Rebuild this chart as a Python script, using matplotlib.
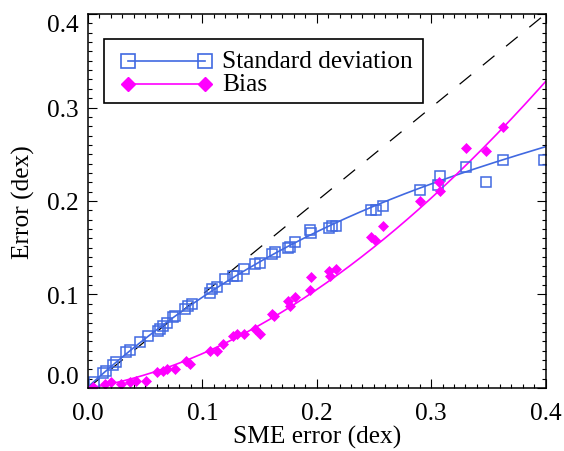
import numpy as np
import matplotlib
matplotlib.use("Agg")
import matplotlib.pyplot as plt
from matplotlib.lines import Line2D
from matplotlib.patches import Rectangle
from matplotlib.ticker import MultipleLocator

plt.rcParams["font.family"] = ["Liberation Serif", "DejaVu Serif"]

# blue open squares: standard deviation vs SME error
std_x = [0.005, 0.013, 0.016, 0.022, 0.0247, 0.0335, 0.0365, 0.0452, 0.0525,
         0.0615, 0.063, 0.066, 0.0688, 0.0746, 0.076, 0.085, 0.0877, 0.0906,
         0.1067, 0.108, 0.1125, 0.12, 0.127, 0.130, 0.136, 0.146, 0.150,
         0.1606, 0.1635, 0.175, 0.1766, 0.181, 0.194, 0.1947, 0.211, 0.213,
         0.217, 0.247, 0.2515, 0.2577, 0.290, 0.306, 0.308, 0.3305, 0.3477,
         0.3626, 0.3987]
std_y = [0.006, 0.016, 0.0185, 0.0246, 0.0275, 0.038, 0.0406, 0.049, 0.056,
         0.0613, 0.063, 0.0667, 0.070, 0.0756, 0.077, 0.0845, 0.0874, 0.0898,
         0.102, 0.106, 0.1077, 0.1166, 0.120, 0.120, 0.127, 0.1326, 0.134,
         0.143, 0.145, 0.150, 0.1505, 0.156, 0.169, 0.166, 0.171, 0.1736,
         0.1736, 0.1907, 0.190, 0.195, 0.2118, 0.217, 0.227, 0.2367, 0.2207,
         0.2439, 0.2442]

# magenta filled diamonds: bias vs SME error
bias_x = [0.0044, 0.0146, 0.020, 0.029, 0.0365, 0.042, 0.051, 0.060, 0.066,
          0.069, 0.076, 0.086, 0.089, 0.1067, 0.1125, 0.118, 0.127, 0.130,
          0.136, 0.146, 0.150, 0.1606, 0.163, 0.175, 0.1766, 0.181, 0.194,
          0.1947, 0.211, 0.212, 0.217, 0.247, 0.251, 0.2577, 0.290, 0.307,
          0.308, 0.3305, 0.3477, 0.3626]
bias_y = [0.0007, 0.0043, 0.006, 0.004, 0.006, 0.0078, 0.0078, 0.0168, 0.0185,
          0.020, 0.020, 0.029, 0.0257, 0.040, 0.040, 0.047, 0.056, 0.058,
          0.058, 0.063, 0.058, 0.079, 0.077, 0.0934, 0.0874, 0.097, 0.1048,
          0.119, 0.1248, 0.120, 0.127, 0.1618, 0.158, 0.173, 0.1997, 0.2207,
          0.2104, 0.2564, 0.2538, 0.2795]

# fitted curves (sample points along each curve)
std_curve_x = [0.0, 0.042, 0.0848, 0.168, 0.2116, 0.2553, 0.29, 0.3305, 0.3626, 0.4]
std_curve_y = [0.0, 0.046, 0.086, 0.147, 0.1708, 0.1968, 0.2146, 0.2324, 0.2457, 0.2564]
bias_curve_x = [0.0, 0.041, 0.0848, 0.168, 0.2116, 0.2553, 0.29, 0.3194, 0.3486, 0.3719, 0.4]
bias_curve_y = [0.0, 0.0096, 0.031, 0.0774, 0.1176, 0.1558, 0.1914, 0.2243, 0.261, 0.2912, 0.327]

legend_labels = ["Standard deviation", "Bias"]

BLUE = "#4169E1"
MAGENTA = "#FF00FF"
FS = 18.3

fig = plt.figure(figsize=(5.64, 4.52), dpi=100)
ax = fig.add_axes([0.156, 0.1394, 0.8112, 0.8274])

# one-to-one reference line
ax.plot([0, 0.4], [0, 0.4], color="black", lw=0.9, dashes=(12, 12))

# smooth the read curve samples with a low-order polynomial
xx = np.linspace(0, 0.4, 200)
ax.plot(xx, np.polyval(np.polyfit(std_curve_x, std_curve_y, 3), xx), color=BLUE, lw=1.2)
ax.plot(xx, np.polyval(np.polyfit(bias_curve_x, bias_curve_y, 3), xx), color=MAGENTA, lw=1.2)

ax.plot(std_x, std_y, ls="none", marker="s", ms=7.5, mfc="none", mec=BLUE, mew=1.1)
ax.plot(bias_x, bias_y, ls="none", marker="D", ms=5, mfc=MAGENTA, mec=MAGENTA, mew=0.5)

# legend drawn by hand in IDL style (markers at both ends of the line)
tr = ax.transAxes
ax.add_patch(Rectangle((0.035, 0.762), 0.697, 0.171, transform=tr, fill=False,
                       ec="black", lw=1.2, zorder=5))
rows = [(0.875, dict(marker="s", ms=9.5, mfc="none", mec=BLUE, mew=1.2, color=BLUE)),
        (0.813, dict(marker="D", ms=7.5, mfc=MAGENTA, mec=MAGENTA, color=MAGENTA))]
for (ypos, style), text in zip(rows, legend_labels):
    ax.add_line(Line2D([0.0874, 0.2557], [ypos, ypos], transform=tr, lw=1.2,
                       zorder=6, **style))
    ax.text(0.293, ypos, text, transform=tr, fontsize=FS, va="center", ha="left")

ax.set_xlim(0, 0.4)
ax.set_ylim(0, 0.4)
ax.xaxis.set_major_locator(MultipleLocator(0.1))
ax.yaxis.set_major_locator(MultipleLocator(0.1))
ax.xaxis.set_minor_locator(MultipleLocator(0.01))
ax.yaxis.set_minor_locator(MultipleLocator(0.01))
ax.tick_params(which="both", direction="in", top=True, right=True, width=0.8,
               labelsize=FS)
ax.tick_params(which="major", length=6.5)
ax.tick_params(which="minor", length=3.2)
ax.tick_params(axis="x", pad=10)
ax.tick_params(axis="y", pad=7)
for s in ax.spines.values():
    s.set_linewidth(1.1)

ax.set_xlabel("SME error (dex)", fontsize=FS, labelpad=1)
ax.set_ylabel("Error (dex)", fontsize=FS, labelpad=8)

# keep the end labels of the y axis inside the frame
fig.canvas.draw()
for tick in ax.yaxis.get_major_ticks():
    if abs(tick.get_loc() - 0.0) < 1e-9:
        tick.label1.set_va("bottom")
    elif abs(tick.get_loc() - 0.4) < 1e-9:
        tick.label1.set_va("top")

fig.savefig("out.png", dpi=100)
